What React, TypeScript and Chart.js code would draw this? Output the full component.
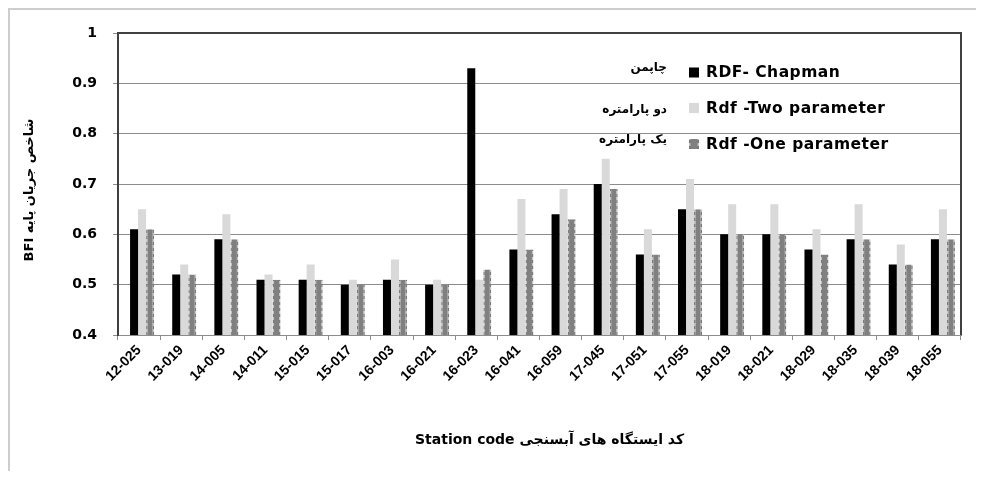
import React, { useEffect, useRef } from 'react';
import { Chart, registerables } from 'chart.js';

Chart.register(...registerables);

const categories = ['12-025', '13-019', '14-005', '14-011', '15-015', '15-017', '16-003', '16-021', '16-023', '16-041', '16-059', '17-045', '17-051', '17-055', '18-019', '18-021', '18-029', '18-035', '18-039', '18-055'];
const chapman = [0.61, 0.52, 0.59, 0.51, 0.51, 0.50, 0.51, 0.50, 0.93, 0.57, 0.64, 0.70, 0.56, 0.65, 0.60, 0.60, 0.57, 0.59, 0.54, 0.59];
const twoParam = [0.65, 0.54, 0.64, 0.52, 0.54, 0.51, 0.55, 0.51, 0.51, 0.67, 0.69, 0.75, 0.61, 0.71, 0.66, 0.66, 0.61, 0.66, 0.58, 0.65];
const oneParam = [0.61, 0.52, 0.59, 0.51, 0.51, 0.50, 0.51, 0.50, 0.53, 0.57, 0.63, 0.69, 0.56, 0.65, 0.60, 0.60, 0.56, 0.59, 0.54, 0.59];
const seriesLabels = ['RDF- Chapman', 'Rdf -Two parameter', 'Rdf -One parameter'];
const seriesLabelsFa = ['چاپمن', 'دو پارامتره', 'یک پارامتره'];
const yMin = 0.4;
const yMax = 1;
const yStep = 0.1;
const xTitle = 'Station code کد ایستگاه های آبسنجی';
const yTitle = 'BFI شاخص جریان پایه';

const W = 968;
const H = 463;

function makePatterns() {
  const c = document.createElement('canvas');
  c.width = 2;
  c.height = 6;
  const g = c.getContext('2d')!;
  g.fillStyle = '#7a7a7a';
  g.fillRect(0, 0, 2, 6);
  g.fillStyle = '#c4c4c4';
  g.fillRect(0, 3, 2, 3);
  const edge = g.createPattern(c, 'repeat');
  return { edge };
}

export default function App() {
  const ref = useRef<HTMLCanvasElement | null>(null);

  useEffect(() => {
    const canvas = ref.current;
    if (!canvas) return;
    const { edge } = makePatterns();
    const colors = ['#000000', '#d9d9d9', '#808080'];

    const overlay = {
      id: 'overlay',
      beforeDatasetsDraw(chart: any) {
        const ctx = chart.ctx as CanvasRenderingContext2D;
        ctx.save();
        ctx.translate(3, 0);
      },
      afterDatasetsDraw(chart: any) {
        chart.ctx.restore();
      },
      afterDraw(chart: any) {
        const ctx = chart.ctx as CanvasRenderingContext2D;
        const a = chart.chartArea;
        ctx.save();
        // top & right frame of the plot area
        ctx.strokeStyle = '#404040';
        ctx.lineWidth = 2;
        ctx.beginPath();
        ctx.moveTo(a.left, a.top);
        ctx.lineTo(a.right, a.top);
        ctx.lineTo(a.right, a.bottom);
        ctx.stroke();

        // legend
        const rowsY = [a.top + 39.5, a.top + 75, a.top + 111];
        const faY = [a.top + 35, a.top + 77, a.top + 107];
        const sqX = a.left + 571;
        for (let i = 0; i < seriesLabels.length; i++) {
          const y = rowsY[i];
          ctx.fillStyle = colors[i];
          ctx.fillRect(sqX, y - 5, 10, 10);
          if (i === 2) {
            ctx.fillStyle = edge as any;
            ctx.fillRect(sqX, y - 5, 1.5, 10);
            ctx.fillRect(sqX + 8.5, y - 5, 1.5, 10);
          }
          ctx.fillStyle = '#000';
          ctx.font = 'bold 15.5px "DejaVu Sans"';
          (ctx as any).letterSpacing = '0.5px';
          ctx.textAlign = 'left';
          ctx.textBaseline = 'middle';
          ctx.fillText(seriesLabels[i], sqX + 17, y + 0.5);
          (ctx as any).letterSpacing = '0px';
          ctx.font = 'bold 12px "DejaVu Sans"';
          ctx.textAlign = 'right';
          ctx.fillText(seriesLabelsFa[i], a.left + 549, faY[i]);
        }

        // axis titles
        ctx.fillStyle = '#000';
        ctx.font = 'bold 14px "DejaVu Sans"';
        ctx.textAlign = 'center';
        ctx.textBaseline = 'middle';
        ctx.fillText(xTitle, (a.left + a.right) / 2 + 10, 432);

        ctx.translate(22, (a.top + a.bottom) / 2 + 6);
        ctx.rotate(-Math.PI / 2);
        ctx.font = 'bold 13px "DejaVu Sans"';
        ctx.fillText(yTitle, 0, 0);
        ctx.restore();
      },
    };

    const chart = new Chart(canvas, {
      type: 'bar',
      data: {
        labels: categories,
        datasets: [
          { label: seriesLabels[0], data: chapman, backgroundColor: colors[0], borderWidth: 0 },
          { label: seriesLabels[1], data: twoParam, backgroundColor: colors[1], borderWidth: 0 },
          {
            label: seriesLabels[2],
            data: oneParam,
            backgroundColor: colors[2],
            borderColor: edge as any,
            borderWidth: { left: 1.5, right: 1.5, top: 0, bottom: 0 },
            borderSkipped: false,
          },
        ],
      },
      plugins: [overlay],
      options: {
        responsive: false,
        animation: false,
        events: [],
        layout: { padding: { left: 10, top: 25, right: 15, bottom: 0 } },
        datasets: { bar: { categoryPercentage: 0.57, barPercentage: 1.0 } },
        plugins: { legend: { display: false }, tooltip: { enabled: false }, title: { display: false } },
        scales: {
          x: {
            afterFit: (s: any) => { s.height = 136; },
            grid: { display: true, drawOnChartArea: false, drawTicks: true, tickLength: 5, color: '#8c8c8c', offset: true },
            border: { display: true, color: '#8c8c8c', width: 1 },
            ticks: {
              color: '#000',
              font: { family: '"Liberation Sans"', weight: 'bold', size: 14 },
              minRotation: 45,
              maxRotation: 45,
              autoSkip: false,
              padding: 2,
            },
          },
          y: {
            min: yMin,
            max: yMax,
            afterFit: (s: any) => { s.width = 100; },
            grid: { color: '#8c8c8c', lineWidth: 1, tickLength: 5, drawTicks: true },
            border: { display: true, color: '#404040', width: 2 },
            ticks: {
              stepSize: yStep,
              color: '#000',
              padding: 16,
              font: { family: '"DejaVu Sans"', weight: 'bold', size: 14 },
              callback: (v: any) => String(Number(Number(v).toFixed(2))),
            },
          },
        },
      },
    } as any);
    return () => chart.destroy();
  }, []);

  return (
    <div style={{ position: 'relative', width: W, height: H }}>
      <canvas ref={ref} width={W} height={H} style={{ position: 'absolute', left: 0, top: 0, width: W, height: H }} />
      <div
        style={{
          position: 'absolute',
          left: 0,
          top: 0,
          width: W + 8,
          height: H + 8,
          borderTop: '2px solid #cdcdcd',
          borderLeft: '2px solid #cdcdcd',
          boxSizing: 'border-box',
          pointerEvents: 'none',
        }}
      />
    </div>
  );
}
